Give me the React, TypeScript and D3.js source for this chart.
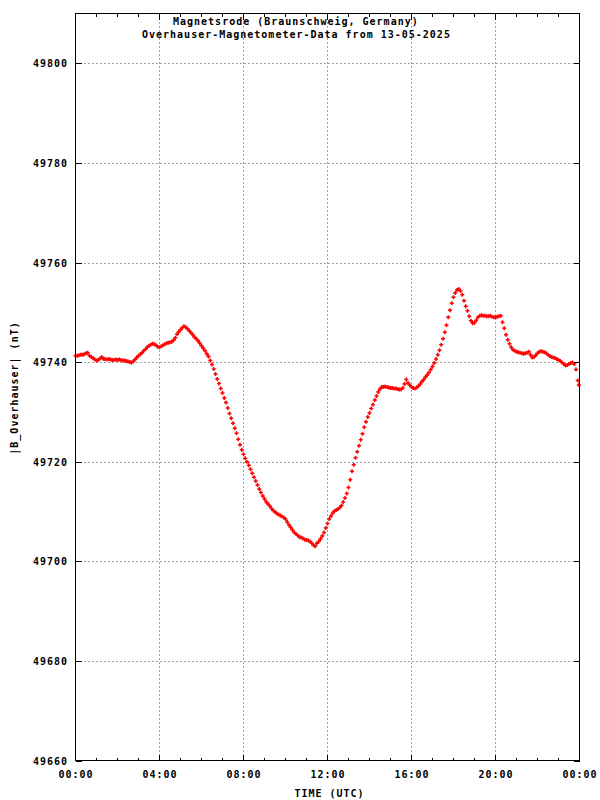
import { useEffect, useRef } from "react";
import * as d3 from "d3";

// B_Overhauser readings (nT), one every 5 minutes from 00:00 UTC, one row per hour
const values5min: number[] = [
  49741.3, 49741.3, 49741.4, 49741.5, 49741.5, 49741.6, 49741.8, 49741.9, 49741.3, 49741.0, 49740.8, 49740.5,
  49740.3, 49740.4, 49740.7, 49741.0, 49740.6, 49740.6, 49740.5, 49740.6, 49740.5, 49740.4, 49740.4, 49740.5,
  49740.4, 49740.5, 49740.4, 49740.3, 49740.3, 49740.2, 49740.1, 49740.0, 49739.9, 49740.1, 49740.5, 49740.9,
  49741.3, 49741.6, 49741.9, 49742.3, 49742.6, 49743.0, 49743.3, 49743.5, 49743.7, 49743.6, 49743.4, 49743.1,
  49743.0, 49743.2, 49743.4, 49743.6, 49743.8, 49743.9, 49744.0, 49744.1, 49744.4, 49744.9, 49745.6, 49746.1,
  49746.5, 49746.9, 49747.2, 49747.0, 49746.7, 49746.3, 49745.9, 49745.5, 49745.0, 49744.7, 49744.3, 49743.8,
  49743.3, 49742.8, 49742.3, 49741.7, 49741.1, 49740.3, 49739.5, 49738.6, 49737.6, 49736.6, 49735.7, 49734.7,
  49733.8, 49732.8, 49731.9, 49730.8, 49729.7, 49728.7, 49727.7, 49726.7, 49725.7, 49724.5, 49723.4, 49722.4,
  49721.5, 49720.7, 49720.0, 49719.3, 49718.5, 49717.7, 49716.9, 49716.1, 49715.3, 49714.5, 49713.8, 49713.1,
  49712.5, 49711.9, 49711.5, 49711.1, 49710.6, 49710.2, 49709.9, 49709.6, 49709.4, 49709.2, 49709.0, 49708.8,
  49708.5, 49707.9, 49707.3, 49706.8, 49706.3, 49705.8, 49705.5, 49705.2, 49704.9, 49704.8, 49704.6, 49704.4,
  49704.3, 49704.2, 49704.0, 49703.6, 49703.2, 49703.0, 49703.6, 49704.0, 49704.5, 49705.1, 49705.8, 49706.7,
  49707.6, 49708.5, 49709.1, 49709.7, 49710.1, 49710.3, 49710.5, 49710.8, 49711.2, 49711.9, 49712.7, 49713.6,
  49714.8, 49716.4, 49718.1, 49719.4, 49720.8, 49722.0, 49723.2, 49724.4, 49725.6, 49726.9, 49728.0, 49729.0,
  49729.8, 49730.7, 49731.5, 49732.4, 49733.2, 49734.0, 49734.6, 49735.0, 49735.0, 49735.1, 49735.0, 49734.9,
  49734.8, 49734.8, 49734.7, 49734.7, 49734.6, 49734.5, 49734.5, 49734.8, 49735.6, 49736.5, 49735.8, 49735.4,
  49735.0, 49734.8, 49734.7, 49734.9, 49735.2, 49735.6, 49736.1, 49736.5, 49737.0, 49737.4, 49737.9, 49738.5,
  49739.1, 49739.8, 49740.6, 49741.5, 49742.4, 49743.5, 49744.7, 49746.0, 49747.4, 49749.0, 49750.4, 49751.8,
  49753.0, 49753.9, 49754.5, 49754.7, 49754.3, 49753.5, 49752.3, 49751.2, 49750.3, 49749.2, 49748.3, 49747.8,
  49747.9, 49748.4, 49749.0, 49749.3, 49749.4, 49749.3, 49749.3, 49749.2, 49749.2, 49749.3, 49749.1, 49749.0,
  49749.0, 49749.1, 49749.2, 49749.3, 49748.0, 49746.8, 49745.5, 49744.5, 49743.7, 49743.0, 49742.5, 49742.3,
  49742.1, 49742.0, 49741.9, 49741.8, 49741.7, 49741.8, 49741.9, 49742.1, 49741.5, 49740.9, 49741.0, 49741.4,
  49741.8, 49742.1, 49742.2, 49742.1, 49742.0, 49741.8, 49741.5, 49741.2, 49741.0, 49740.9, 49740.8, 49740.6,
  49740.4, 49740.2, 49739.9, 49739.6, 49739.3, 49739.4, 49739.6, 49739.8, 49739.9, 49739.6, 49738.5, 49736.3,
];
// last reading before midnight
const tailMinutes: number[] = [1438];
const tailValues: number[] = [49735.4];

const yTicks: number[] = [49660, 49680, 49700, 49720, 49740, 49760, 49780, 49800];
const xTickLabels: string[] = ["00:00", "04:00", "08:00", "12:00", "16:00", "20:00", "00:00"];

const titleLines: string[] = [
  "Magnetsrode (Braunschweig, Germany)",
  "Overhauser-Magnetometer-Data from 13-05-2025",
];

function MagnetChart() {
  const svgRef = useRef<SVGSVGElement | null>(null);

  useEffect(() => {
    const width = 600;
    const height = 800;
    const left = 75.5, right = 579.5, top = 13.5, bottom = 760.5;

    const svg = d3.select(svgRef.current).attr("width", width).attr("height", height);
    svg.selectAll("*").remove();

    const font = "'DejaVu Sans Mono', monospace";

    const x = d3.scaleLinear().domain([0, 1440]).range([left, right]);
    const y = d3.scaleLinear().domain([49660, 49810]).range([bottom, top]);

    const points = values5min
      .map((v, i) => ({ t: i * 5, v }))
      .concat(tailMinutes.map((t, i) => ({ t, v: tailValues[i] })));

    svg.append("rect").attr("width", width).attr("height", height).attr("fill", "white");

    // grid
    const grid = svg.append("g")
      .attr("stroke", "#a0a0a0")
      .attr("stroke-dasharray", "2,2")
      .attr("shape-rendering", "crispEdges");
    grid.selectAll("line.gy")
      .data(yTicks.filter((d) => d > 49660))
      .enter()
      .append("line")
      .attr("class", "gy")
      .attr("x1", left)
      .attr("x2", right)
      .attr("y1", (d) => Math.round(y(d)) + 0.5)
      .attr("y2", (d) => Math.round(y(d)) + 0.5);
    grid.selectAll("line.gx")
      .data(d3.range(240, 1440, 240))
      .enter()
      .append("line")
      .attr("class", "gx")
      .attr("y1", top)
      .attr("y2", bottom)
      .attr("x1", (d) => x(d))
      .attr("x2", (d) => x(d));

    // data, drawn as small "+" marks
    const s = 2;
    svg.append("path")
      .attr("fill", "none")
      .attr("stroke", "#ff0000")
      .attr("stroke-width", 1.5)
      .attr("d", points
        .map((p) => {
          const px = x(p.t), py = y(p.v);
          return `M${px - s},${py}h${2 * s}M${px},${py - s}v${2 * s}`;
        })
        .join(""));

    // ticks
    const ticks = svg.append("g").attr("stroke", "black").attr("shape-rendering", "crispEdges");
    d3.range(0, 1441, 60).forEach((m) => {
      const len = m % 240 === 0 ? 6 : 3;
      ticks.append("line").attr("x1", x(m)).attr("x2", x(m)).attr("y1", bottom).attr("y2", bottom - len);
      ticks.append("line").attr("x1", x(m)).attr("x2", x(m)).attr("y1", top).attr("y2", top + len);
    });
    yTicks.forEach((d) => {
      const py = Math.round(y(d)) + 0.5;
      ticks.append("line").attr("x1", left).attr("x2", left + 6).attr("y1", py).attr("y2", py);
      ticks.append("line").attr("x1", right).attr("x2", right - 6).attr("y1", py).attr("y2", py);
    });

    // border
    svg.append("rect")
      .attr("x", left)
      .attr("y", top)
      .attr("width", right - left)
      .attr("height", bottom - top)
      .attr("fill", "none")
      .attr("stroke", "black")
      .attr("shape-rendering", "crispEdges");

    const text = svg.append("g")
      .attr("font-family", font)
      .attr("font-weight", "bold")
      .attr("font-size", 10)
      .attr("letter-spacing", 1)
      .attr("fill", "black");

    text.selectAll("text.yl")
      .data(yTicks)
      .enter()
      .append("text")
      .attr("class", "yl")
      .attr("x", 68)
      .attr("y", (d) => y(d) + 4)
      .attr("text-anchor", "end")
      .text((d) => d);

    text.selectAll("text.xl")
      .data(xTickLabels)
      .enter()
      .append("text")
      .attr("class", "xl")
      .attr("x", (_, i) => x(i * 240) + 0.5)
      .attr("y", 777.5)
      .attr("text-anchor", "middle")
      .text((d) => d);

    text.append("text").attr("x", 173).attr("y", 25.3).text(titleLines[0]);
    text.append("text").attr("x", 142).attr("y", 37.5).text(titleLines[1]);

    text.append("text")
      .attr("x", 329.5)
      .attr("y", 796.5)
      .attr("text-anchor", "middle")
      .text("TIME (UTC)");

    text.append("text")
      .attr("transform", "translate(18.3,388) rotate(-90)")
      .attr("text-anchor", "middle")
      .text("|B_Overhauser| (nT)");
  }, []);

  return <svg ref={svgRef} width={600} height={800}></svg>;
}

export default function App() {
  return (
    <div style={{ position: "absolute", left: 0, top: 0 }}>
      <MagnetChart />
    </div>
  );
}
